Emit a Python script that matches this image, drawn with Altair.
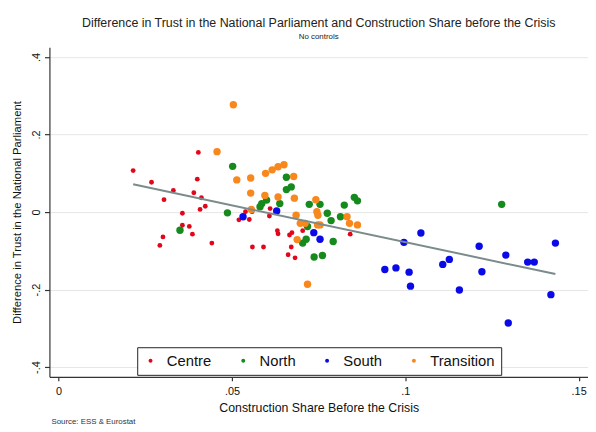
import altair as alt
import pandas as pd

groups = ["Centre", "North", "South", "Transition"]
colors = ["#e3061b", "#168a1c", "#0a0ae8", "#f8871c"]

centre_x = [0.0215, 0.0268, 0.0331, 0.0304, 0.0403, 0.0400, 0.0390, 0.0412, 0.0423, 0.0408,
            0.0357, 0.0357, 0.0377, 0.0386, 0.0301, 0.0292, 0.0442, 0.0520, 0.0550, 0.0558,
            0.0539, 0.0610, 0.0608, 0.0631, 0.0633, 0.0666, 0.0673, 0.0704, 0.0671, 0.0559,
            0.0591, 0.0662, 0.0682, 0.0841, 0.0603]
centre_y = [0.107, 0.077, 0.056, 0.032, 0.154, 0.085, 0.050, 0.037, 0.015, 0.007,
            -0.003, -0.034, -0.037, -0.057, -0.064, -0.086, -0.080, -0.020, -0.019, 0.001,
            0.001, 0.009, -0.010, -0.048, -0.056, -0.059, -0.053, -0.048, -0.090, -0.090,
            -0.090, -0.110, -0.118, -0.057, 0.031]

north_x = [0.0502, 0.0487, 0.0350, 0.0657, 0.0657, 0.0671, 0.0586, 0.0581, 0.0600, 0.0638,
           0.0723, 0.0754, 0.0824, 0.0853, 0.0862, 0.0775, 0.0786, 0.0813, 0.0718, 0.0714,
           0.0704, 0.0792, 0.0737, 0.0761, 0.1278]
north_y = [0.118, -0.002, -0.047, 0.090, 0.058, 0.065, 0.022, 0.014, 0.031, 0.022,
           0.020, 0.020, 0.018, 0.038, 0.029, -0.003, -0.022, -0.012, -0.037, -0.070,
           -0.080, -0.076, -0.116, -0.112, 0.020]

south_x = [0.0532, 0.0629, 0.0736, 0.0754, 0.1045, 0.0996, 0.0941, 0.0973, 0.1011, 0.1015,
           0.1108, 0.1127, 0.1156, 0.1213, 0.1221, 0.1290, 0.1297, 0.1353, 0.1372, 0.1433,
           0.1420]
south_y = [-0.012, 0.003, -0.053, -0.070, -0.054, -0.078, -0.148, -0.144, -0.155, -0.191,
           -0.135, -0.122, -0.201, -0.088, -0.154, -0.111, -0.286, -0.129, -0.129, -0.080,
           -0.213]

transition_x = [0.0504, 0.0457, 0.0514, 0.0554, 0.0554, 0.0556, 0.0597, 0.0616, 0.0633, 0.0650,
                0.0678, 0.0595, 0.0633, 0.0680, 0.0742, 0.0745, 0.0748, 0.0832, 0.0839, 0.0862,
                0.0685, 0.0697, 0.0711, 0.0747, 0.0754, 0.0688, 0.0718]
transition_y = [0.277, 0.156, 0.083, 0.088, 0.049, 0.007, 0.100, 0.109, 0.117, 0.122,
                0.092, 0.043, 0.039, 0.036, 0.032, 0.001, -0.008, -0.012, -0.029, -0.033,
                -0.008, -0.029, -0.029, -0.033, -0.033, -0.071, -0.186]

x_ticks = [0, 0.05, 0.1, 0.15]
y_ticks = [-0.4, -0.2, 0, 0.2, 0.4]

rows = []
for g, xs, ys in [("Centre", centre_x, centre_y), ("North", north_x, north_y),
                  ("South", south_x, south_y), ("Transition", transition_x, transition_y)]:
    for a, b in zip(xs, ys):
        rows.append({"group": g, "share": a, "trust": b})
df = pd.DataFrame(rows)

FONT = "Liberation Sans"
W, H = 546, 334

stata_fmt = ("datum.value == 0 ? '0' : (datum.value < 0 ? '-' : '') + "
             "replace(format(abs(datum.value), '.2~f'), '0.', '.')")

xscale = alt.Scale(domain=[-0.00265, 0.1527], nice=False, zero=False)
yscale = alt.Scale(domain=[-0.425, 0.425], nice=False, zero=False)

x_enc = alt.X("share:Q", scale=xscale, title="Construction Share Before the Crisis",
              axis=alt.Axis(values=x_ticks, grid=False, labelExpr=stata_fmt,
                            labelFontSize=11, titleFontSize=12.5, labelPadding=5,
                            titlePadding=5, tickSize=4, labelFlush=False))
y_enc = alt.Y("trust:Q", scale=yscale, title="Difference in Trust in the National Parliament",
              axis=alt.Axis(values=y_ticks, grid=True, gridColor="#e6e6e6", gridWidth=1,
                            labelExpr=stata_fmt, labelAngle=270, labelAlign="center",
                            labelBaseline="bottom", labelFontSize=11, titleFontSize=11.4,
                            labelPadding=3, titlePadding=8, tickSize=5))

points = alt.Chart(df).mark_circle(opacity=1).encode(
    x=x_enc,
    y=y_enc,
    color=alt.Color("group:N", scale=alt.Scale(domain=groups, range=colors),
                    legend=alt.Legend(title=None, orient="none", legendX=89, legendY=304,
                                      direction="horizontal", columns=4,
                                      symbolType="circle", symbolSize=16,
                                      labelFontSize=15, labelFont=FONT, labelColor="#111",
                                      labelOffset=9, columnPadding=24, padding=6,
                                      strokeColor="#222", fillColor="white")),
    size=alt.condition(alt.datum.group == "Centre", alt.value(24), alt.value(56)),
)

fit = alt.Chart(df).transform_regression("share", "trust").mark_line(
    color="#7b8b8b", strokeWidth=2
).encode(x="share:Q", y="trust:Q")

source = alt.Chart(pd.DataFrame({"t": ["Source:  ESS & Eurostat"]})).mark_text(
    align="left", baseline="middle", fontSize=8, font=FONT, color="#333"
).encode(text="t:N", x=alt.value(2), y=alt.value(H + 46))

chart = alt.layer(points, fit, source).properties(
    width=W, height=H,
    autosize=alt.AutoSizeParams(type="none"),
    padding={"left": 42, "top": 37, "right": 0, "bottom": 51},
    title=alt.TitleParams(
        text="Difference in Trust in the National Parliament and Construction Share before the Crisis",
        subtitle="No controls", anchor="middle", frame="group",
        fontSize=12.6, fontWeight="normal", font=FONT, color="#222",
        subtitleFontSize=8, subtitleFont=FONT, subtitleColor="#222",
        subtitlePadding=4, offset=6),
).configure(background="white").configure_view(stroke=None).configure_axis(
    labelFont=FONT, titleFont=FONT, labelColor="#111", titleColor="#111",
    titleFontWeight="normal", domainColor="#333", tickColor="#333",
    domainWidth=1.2, tickWidth=1.2)

chart.save("out.html", embed_options={"renderer": "svg", "actions": False})
